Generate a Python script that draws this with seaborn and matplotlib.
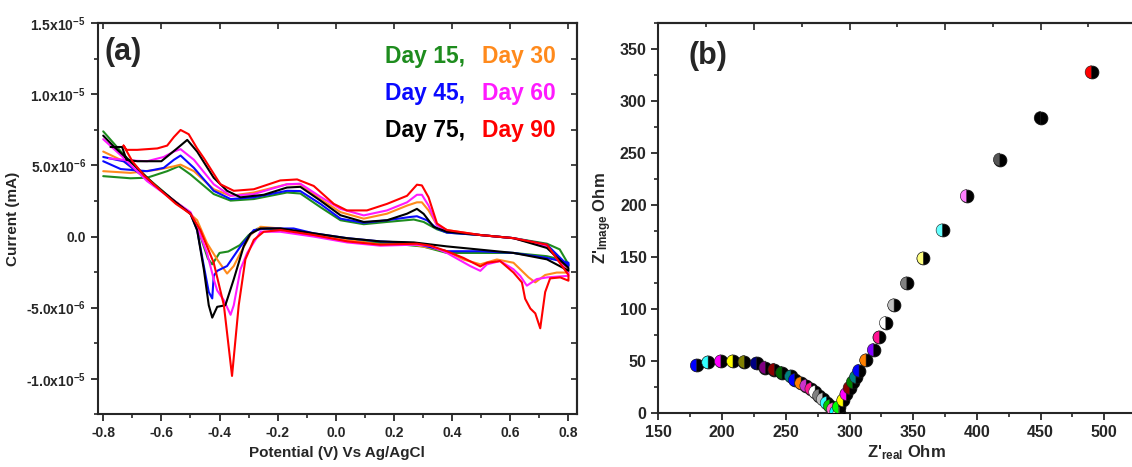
import pandas as pd
import seaborn as sns
import matplotlib.pyplot as plt
from matplotlib.markers import MarkerStyle
from matplotlib.ticker import MultipleLocator

# ---------------- (a) cyclic voltammograms (current in units of 1e-6) ----------------
days = ["Day 15", "Day 30", "Day 45", "Day 60", "Day 75", "Day 90"]
day_colors = ["#1e8c1e", "#ff8a1c", "#0a0aff", "#ff1aff", "#000000", "#ff0000"]

day15_E = [-0.80, -0.706, -0.649, -0.58, -0.54, -0.50, -0.42, -0.362, -0.282, -0.168, -0.122, -0.053,
           0.016, 0.096, 0.176, 0.268, 0.302, 0.348, 0.382, 0.497, 0.611, 0.726, 0.77, 0.80,
           0.80, 0.77, 0.726, 0.611, 0.497, 0.382, 0.30, 0.20, 0.10, 0.0, -0.10, -0.19, -0.27, -0.30,
           -0.33, -0.37, -0.40, -0.425, -0.44, -0.454, -0.477, -0.50, -0.557, -0.649, -0.729, -0.80]
day15_I = [4.25, 4.1, 4.14, 4.6, 4.95, 4.37, 2.99, 2.53, 2.64, 3.1, 3.03, 2.07,
           1.15, 0.87, 1.03, 1.2, 1.03, 0.51, 0.28, 0.11, -0.11, -0.5, -0.9, -1.95,
           -2.07, -1.6, -1.38, -1.15, -1.15, -1.15, -0.7, -0.5, -0.4, -0.15, 0.2, 0.55, 0.55, 0.1,
           -0.6, -1.05, -1.15, -1.95, -1.55, -0.7, 0.7, 1.65, 2.53, 4.14, 5.75, 7.4]

day30_E = [-0.80, -0.706, -0.614, -0.557, -0.534, -0.488, -0.42, -0.362, -0.282, -0.168, -0.122, -0.053,
           0.016, 0.096, 0.176, 0.245, 0.279, 0.296, 0.319, 0.348, 0.382, 0.497, 0.611, 0.726, 0.80,
           0.80, 0.76, 0.72, 0.686, 0.663, 0.611, 0.554, 0.497, 0.439, 0.382, 0.268, 0.153, 0.038,
           -0.076, -0.191, -0.259, -0.294, -0.328, -0.351, -0.374, -0.408, -0.443, -0.477, -0.534,
           -0.592, -0.649, -0.729, -0.80]
day30_I = [4.6, 4.48, 4.7, 4.94, 5.06, 4.6, 3.33, 2.87, 3.1, 3.68, 3.68, 2.64,
           1.72, 1.26, 1.61, 2.18, 2.41, 2.41, 1.84, 0.8, 0.46, 0.11, -0.11, -0.69, -2.41,
           -2.53, -2.53, -2.7, -3.22, -2.87, -1.84, -1.61, -1.95, -1.61, -1.03, -0.57, -0.57, -0.23,
           0.11, 0.57, 0.69, 0.11, -1.15, -2.07, -2.6, -1.61, -0.46, 1.15, 2.18,
           3.1, 4.02, 5.29, 5.98]

day45_E = [-0.80, -0.74, -0.649, -0.592, -0.557, -0.534, -0.488, -0.42, -0.362, -0.282, -0.168, -0.122,
           -0.053, 0.016, 0.096, 0.176, 0.256, 0.279, 0.313, 0.348, 0.382, 0.497, 0.611, 0.726, 0.80,
           0.80, 0.726, 0.611, 0.497, 0.382, 0.268, 0.153, 0.038, -0.076, -0.145, -0.236, -0.282,
           -0.328, -0.374, -0.408, -0.42, -0.425, -0.437, -0.454, -0.477, -0.50, -0.557, -0.649,
           -0.729, -0.80]
day45_I = [5.3, 4.75, 4.6, 4.83, 5.4, 5.7, 4.83, 3.22, 2.64, 2.76, 3.22, 3.2,
           2.3, 1.26, 0.97, 1.15, 1.38, 1.43, 1.15, 0.57, 0.28, 0.11, -0.11, -0.57, -2.07,
           -1.84, -1.5, -1.15, -1.03, -1.03, -0.46, -0.34, -0.11, 0.23, 0.57, 0.57, 0.46,
           -0.69, -2.07, -2.41, -2.76, -4.35, -3.9, -2.07, 0.46, 1.61, 2.53, 4.02,
           5.29, 5.6]

day60_E = [-0.78, -0.706, -0.649, -0.592, -0.557, -0.534, -0.488, -0.42, -0.362, -0.282, -0.168, -0.122,
           -0.053, 0.016, 0.096, 0.176, 0.245, 0.279, 0.296, 0.319, 0.348, 0.382, 0.497, 0.611, 0.726,
           0.80, 0.80, 0.726, 0.691, 0.657, 0.634, 0.611, 0.565, 0.52, 0.497, 0.462, 0.382, 0.325,
           0.268, 0.153, 0.038, -0.076, -0.191, -0.259, -0.305, -0.328, -0.351, -0.362, -0.385,
           -0.408, -0.42, -0.443, -0.477, -0.50, -0.557, -0.649, -0.729, -0.80]
day60_I = [5.5, 5.35, 5.3, 5.6, 5.98, 6.15, 5.4, 3.68, 2.87, 2.99, 3.68, 3.72,
           2.8, 1.95, 1.49, 1.84, 2.41, 2.94, 2.94, 2.18, 0.8, 0.41, 0.11, -0.11, -0.69,
           -2.53, -2.76, -2.87, -2.99, -3.45, -2.76, -2.3, -1.72, -1.95, -2.41, -2.07, -1.15, -0.64,
           -0.57, -0.64, -0.41, 0.0, 0.34, 0.34, -1.15, -2.3, -4.83, -5.5, -4.48,
           -3.79, -2.99, -1.15, 0.69, 1.72, 2.53, 3.9, 5.52, 6.85]

day75_E = [-0.775, -0.735, -0.72, -0.683, -0.60, -0.546, -0.511, -0.477, -0.42, -0.374, -0.328, -0.248,
           -0.168, -0.122, -0.053, 0.016, 0.096, 0.176, 0.245, 0.279, 0.302, 0.336, 0.382, 0.497,
           0.611, 0.726, 0.80, 0.80, 0.726, 0.611, 0.497, 0.382, 0.268, 0.153, 0.038, -0.076, -0.191,
           -0.259, -0.294, -0.317, -0.351, -0.38, -0.408, -0.425, -0.437, -0.454, -0.477, -0.50,
           -0.557, -0.626, -0.695, -0.763, -0.80]
day75_I = [6.3, 6.3, 5.4, 5.3, 5.3, 6.2, 6.8, 5.98, 4.14, 3.22, 2.76, 2.94,
           3.45, 3.5, 2.53, 1.5, 1.03, 1.15, 1.61, 1.95, 1.6, 0.69, 0.34, 0.11,
           -0.11, -0.8, -2.2, -2.4, -1.6, -1.15, -0.92, -0.69, -0.41, -0.34, -0.11, 0.23, 0.57,
           0.57, 0.2, -0.69, -3.0, -4.83, -4.94, -5.7, -4.83, -2.3, 0.46, 1.61,
           2.53, 3.68, 5.06, 6.32, 7.1]

day90_E = [-0.73, -0.72, -0.683, -0.614, -0.58, -0.557, -0.534, -0.506, -0.477, -0.454, -0.397, -0.351,
           -0.282, -0.191, -0.133, -0.076, -0.007, 0.038, 0.107, 0.176, 0.245, 0.279, 0.296, 0.319,
           0.348, 0.382, 0.497, 0.611, 0.726, 0.80, 0.80, 0.772, 0.737, 0.72, 0.703, 0.686, 0.669,
           0.651, 0.64, 0.611, 0.565, 0.52, 0.497, 0.439, 0.382, 0.325, 0.279, 0.153, 0.04, -0.076,
           -0.19, -0.248, -0.282, -0.311, -0.334, -0.357, -0.385, -0.42, -0.466, -0.50, -0.55, -0.60,
           -0.66, -0.70, -0.73]
day90_I = [6.4, 6.1, 6.1, 6.2, 6.4, 7.0, 7.5, 7.2, 6.2, 5.52, 3.68, 3.22,
           3.33, 3.95, 4.02, 3.56, 2.3, 1.84, 1.84, 2.3, 2.87, 3.65, 3.6, 2.76,
           0.92, 0.46, 0.11, -0.11, -0.57, -2.7, -3.1, -2.87, -2.94, -3.9, -6.45, -5.4, -5.06,
           -4.37, -3.22, -2.53, -1.72, -1.84, -2.1, -1.5, -1.03, -0.64, -0.5, -0.57, -0.34, 0.11,
           0.46, 0.34, -0.23, -1.6, -4.83, -9.8, -4.83, -1.84, 0.46, 1.6, 2.3, 3.2,
           4.3, 5.3, 6.4]

cv_E = [day15_E, day30_E, day45_E, day60_E, day75_E, day90_E]
cv_I = [day15_I, day30_I, day45_I, day60_I, day75_I, day90_I]

# ---------------- (b) Nyquist plot ----------------
z_real = [180, 189, 199, 208.5, 217.5, 227, 234, 241, 247, 254, 257, 262, 266, 270, 273, 276, 279,
          282, 284.5, 287, 289.5, 292,
          291.5, 295, 297.5, 300, 302.5, 305, 307.5, 313, 319, 323.5, 328.5, 335, 345, 358, 373,
          392, 418, 450, 490]
z_imag = [46, 49, 50, 50, 49.5, 48, 44, 42, 39, 35.5, 32, 29, 26.5, 23.5, 20.5, 17, 13.5,
          10, 7, 4, 1.5, 0,
          6, 12.5, 18.5, 24.5, 30, 35, 41, 51, 61, 73, 87, 104, 125, 149, 176,
          209, 244, 284, 328]
pt_colors = ["#0000ff", "#33ffff", "#ff00ff", "#ffff00", "#808000", "#000080", "#800080", "#8b0000",
             "#006400", "#008080", "#0000ff", "#ff8000", "#cc33cc", "#ff1493", "#ffffff", "#808080",
             "#c0c0c0", "#33ffff", "#00cc00", "#ff66cc", "#00ffff", "#ffffff",
             "#00ff00", "#ffff00", "#ff00ff", "#8b0000", "#008000", "#008080", "#0000ff",
             "#ff8000", "#8000ff", "#ff1493", "#ffffff", "#c0c0c0", "#808080", "#ffff80", "#66ffff",
             "#ff80ff", "#555555", "#000000", "#ff0000"]

# ---------------- style ----------------
sns.set_style("ticks")
plt.rcParams["font.family"] = ["Liberation Sans", "DejaVu Sans"]
plt.rcParams["font.weight"] = "bold"
plt.rcParams["axes.unicode_minus"] = False
plt.rcParams["mathtext.fontset"] = "custom"
plt.rcParams["mathtext.rm"] = "Liberation Sans:bold"
plt.rcParams["mathtext.bf"] = "Liberation Sans:bold"
plt.rcParams["mathtext.it"] = "Liberation Sans:bold"
plt.rcParams["mathtext.default"] = "rm"

fig = plt.figure(figsize=(11.32, 4.67), dpi=100)
ax1 = fig.add_axes([0.0863, 0.1128, 0.4233, 0.8373])
ax2 = fig.add_axes([0.5817, 0.1150, 0.4388, 0.8351])

# panel (a)
rows = []
for day, E, I in zip(days, cv_E, cv_I):
    for k, (e, i) in enumerate(zip(E, I)):
        rows.append({"day": day, "order": k, "E": e, "I": i * 1e-6})
cv = pd.DataFrame(rows)
sns.lineplot(data=cv, x="E", y="I", hue="day", hue_order=days,
             palette=dict(zip(days, day_colors)), sort=False, estimator=None,
             legend=False, lw=1.5, ax=ax1)

ax1.set_xlim(-0.819, 0.829)
ax1.set_ylim(-1.25e-5, 1.5e-5)
xt = [-0.8, -0.6, -0.4, -0.2, 0.0, 0.2, 0.4, 0.6, 0.8]
ax1.set_xticks(xt, [f"{v:.1f}" for v in xt])
yt = [-1.0e-5, -5.0e-6, 0.0, 5.0e-6, 1.0e-5, 1.5e-5]
ax1.set_yticks(yt, ["-1.0x10$^{-5}$", "-5.0x10$^{-6}$", "0.0",
                    "5.0x10$^{-6}$", "1.0x10$^{-5}$", "1.5x10$^{-5}$"])
ax1.xaxis.set_minor_locator(MultipleLocator(0.1))
ax1.yaxis.set_minor_locator(MultipleLocator(2.5e-6))
ax1.tick_params(which="major", direction="out", length=5, width=1.3, labelsize=10)
ax1.tick_params(which="minor", direction="out", length=3, width=1.2)
ax1.set_xlabel("Potential (V) Vs Ag/AgCl", fontsize=11, fontweight="bold")
ax1.set_ylabel("Current (mA)", fontsize=11, fontweight="bold")

top1 = ax1.secondary_xaxis("top")
top1.xaxis.set_major_locator(MultipleLocator(0.2))
top1.tick_params(direction="in", length=4, width=1.2, labeltop=False)
right1 = ax1.secondary_yaxis("right")
right1.yaxis.set_major_locator(MultipleLocator(2.5e-6))
right1.tick_params(direction="in", length=4, width=1.2, labelright=False)

ax1.text(0.015, 0.965, "(a)", transform=ax1.transAxes, fontsize=22,
         fontweight="bold", ha="left", va="top")

legend_pos = [(385, 63), (482, 63), (385, 100), (482, 100), (385, 137), (482, 137)]
legend_txt = ["Day 15,", "Day 30", "Day 45,", "Day 60", "Day 75,", "Day 90"]
for (px, py), txt, col in zip(legend_pos, legend_txt, day_colors):
    fig.text(px / 1132, 1 - py / 467, txt, color=col, fontsize=16.5,
             fontweight="bold", ha="left", va="baseline")

# panel (b)
eis = pd.DataFrame({"Zre": z_real, "Zim": z_imag, "col": pt_colors})
sns.scatterplot(data=eis, x="Zre", y="Zim", color="black", s=85,
                edgecolor="#111111", linewidth=0.6, ax=ax2, zorder=3)
sns.scatterplot(data=eis, x="Zre", y="Zim", hue="col",
                palette={c: c for c in pt_colors}, marker=MarkerStyle("o", "left"),
                s=85, edgecolor="#222222", linewidth=0.4, legend=False, ax=ax2, zorder=4)

ax2.set_xlim(150, 540)
ax2.set_ylim(0, 375)
ax2.set_xticks(range(150, 501, 50))
ax2.set_yticks(range(0, 351, 50))
ax2.xaxis.set_minor_locator(MultipleLocator(25))
ax2.yaxis.set_minor_locator(MultipleLocator(25))
ax2.tick_params(which="major", direction="out", length=5, width=1.3, labelsize=11.5)
ax2.tick_params(which="minor", direction="out", length=3, width=1.2)
ax2.spines["right"].set_visible(False)
ax2.set_xlabel("Z'$_{real}$ Ohm", fontsize=12, fontweight="bold", labelpad=2)
ax2.set_ylabel("Z'$_{Image}$ Ohm", fontsize=12, fontweight="bold")

top2 = ax2.secondary_xaxis("top")
top2.xaxis.set_major_locator(MultipleLocator(75))
top2.xaxis.set_minor_locator(MultipleLocator(37.5))
top2.tick_params(which="major", direction="in", length=5, width=1.2, labeltop=False)
top2.tick_params(which="minor", direction="in", length=3, width=1.2)

ax2.text(0.06, 0.955, "(b)", transform=ax2.transAxes, fontsize=22,
         fontweight="bold", ha="left", va="top")

for ax in (ax1, ax2):
    for sp in ax.spines.values():
        sp.set_linewidth(1.5)
top1.spines["top"].set_linewidth(1.5)
right1.spines["right"].set_linewidth(1.5)
top2.spines["top"].set_linewidth(1.5)

fig.savefig("out.png", dpi=100)
